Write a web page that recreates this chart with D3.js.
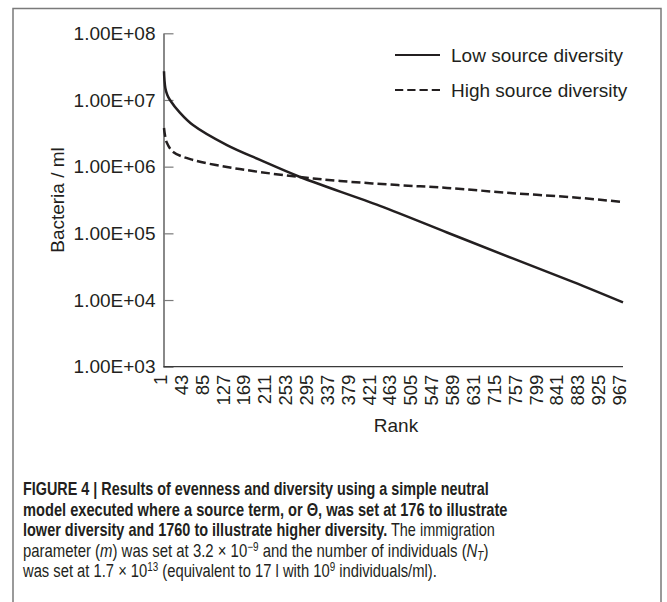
<!DOCTYPE html>
<html>
<head>
<meta charset="utf-8">
<script src="https://cdn.jsdelivr.net/npm/d3@7"></script>
<style>
  html, body { margin: 0; padding: 0; background: #fff; }
  svg { display: block; }
</style>
</head>
<body>
<svg id="chart" width="667" height="602"></svg>
<script>
// ---- data ----
const seriesNames = ["Low source diversity", "High source diversity"];
const lowRanks  = [1, 2, 4, 8, 14, 36, 64, 138, 210, 297, 471, 617, 760, 891, 1000];
const lowValues = [2.7e7, 2.0e7, 1.5e7, 1.2e7, 1.0e7, 6.4e6, 4.2e6, 2.1e6, 1.26e6, 7.0e5, 2.58e5, 1.03e5, 4.2e4, 1.87e4, 9.2e3];
const highRanks  = [1, 3, 7, 21, 64, 138, 210, 297, 384, 510, 617, 760, 906, 1000];
const highValues = [3.8e6, 3.0e6, 2.3e6, 1.66e6, 1.26e6, 9.9e5, 8.3e5, 7.0e5, 6.1e5, 5.3e5, 4.8e5, 4.0e5, 3.4e5, 2.95e5];
const xTickLabels = ["1","43","85","127","169","211","253","295","337","379","421","463","505","547","589","631","715","757","799","841","883","925","967"];
const yTickValues = [1e3, 1e4, 1e5, 1e6, 1e7, 1e8];
const yTitle = "Bacteria / ml";
const xTitle = "Rank";

const svg = d3.select("#chart");
const ink = "#231f20";
const font = "'Liberation Sans', Arial, Helvetica, sans-serif";

// frame
svg.append("path")
  .attr("d", "M13,602 L13,8.5 L661,8.5 L661,602")
  .attr("fill", "none").attr("stroke", "#7a7a7a").attr("stroke-width", 1.5);

const x = d3.scaleLinear().domain([1, 1000]).range([164, 623]);
const xLab = d3.scalePoint().domain(xTickLabels).range([160, 619]);
const y = d3.scaleLog().domain([1e3, 1e8]).range([366.7, 33.3]);

// y axis
const yAxis = d3.axisLeft(y)
  .tickValues(yTickValues)
  .tickSizeInner(-10).tickSizeOuter(0).tickPadding(8)
  .tickFormat(d => "1.00E+" + String(Math.round(Math.log10(d))).padStart(2, "0"));
const gy = svg.append("g").attr("transform", "translate(163.5,0)").call(yAxis);
gy.select(".domain").attr("stroke", "#3a3a3a").attr("stroke-width", 1.2);
gy.selectAll(".tick line").attr("stroke", "#7a7a7a").attr("stroke-width", 1.2);
gy.selectAll(".tick text").attr("font-family", font).attr("font-size", 19).attr("fill", ink);

// x axis line
svg.append("line")
  .attr("x1", x.range()[0] - 0.5).attr("x2", x.range()[1])
  .attr("y1", 366.7).attr("y2", 366.7)
  .attr("stroke", "#3a3a3a").attr("stroke-width", 1.2);

// x tick labels via axis
const xAxis = d3.axisBottom(xLab).tickSize(0).tickPadding(0);
const gx = svg.append("g").attr("transform", "translate(0,366.7)").call(xAxis);
gx.select(".domain").remove();
gx.selectAll(".tick text")
  .attr("font-family", font).attr("font-size", 18.5).attr("fill", ink)
  .attr("transform", "rotate(-90)")
  .attr("text-anchor", "end")
  .attr("x", -8).attr("y", 0).attr("dy", "0.35em");

// axis titles
svg.append("text").text(xTitle)
  .attr("x", 396).attr("y", 432)
  .attr("text-anchor", "middle")
  .attr("font-family", font).attr("font-size", 19).attr("fill", ink);
svg.append("text").text(yTitle)
  .attr("transform", "translate(64,200) rotate(-90)")
  .attr("text-anchor", "middle")
  .attr("font-family", font).attr("font-size", 19).attr("fill", ink);

// lines
const line = d3.line().x(d => x(d[0])).y(d => y(d[1])).curve(d3.curveCatmullRom.alpha(0.5));
const lowData = lowRanks.map((r, i) => [r, lowValues[i]]);
const highData = highRanks.map((r, i) => [r, highValues[i]]);
svg.append("path").datum(lowData).attr("d", line)
  .attr("fill", "none").attr("stroke", ink).attr("stroke-width", 2.5);
svg.append("path").datum(highData).attr("d", line)
  .attr("fill", "none").attr("stroke", ink).attr("stroke-width", 2.5)
  .attr("stroke-dasharray", "9,4");

// legend
const legend = svg.append("g");
const legRows = [{name: seriesNames[0], dash: null, y: 55}, {name: seriesNames[1], dash: "8.25,4", y: 90}];
legRows.forEach(r => {
  legend.append("line").attr("x1", 395).attr("x2", 440).attr("y1", r.y).attr("y2", r.y)
    .attr("stroke", ink).attr("stroke-width", 2)
    .attr("stroke-dasharray", r.dash);
  legend.append("text").text(r.name).attr("x", 451).attr("y", r.y).attr("dy", "0.35em")
    .attr("font-family", font).attr("font-size", 19).attr("fill", ink);
});

// caption (condensed by horizontal scaling to the reference line widths)
const cap = svg.append("g").attr("font-family", font).attr("font-size", 18).attr("fill", ink);
const lineYs = [495, 515.5, 536, 556.5, 577];
const lineWidths = [466, 485, 472, 466, 414];
function capLine(i, parts) {
  const g = cap.append("g");
  const t = g.append("text").attr("x", 0).attr("y", 0);
  parts.forEach(p => {
    const s = t.append("tspan").text(p.t);
    if (p.b) s.attr("font-weight", "bold");
    if (p.i) s.attr("font-style", "italic");
    if (p.sup) s.attr("dy", -6).attr("font-size", 12);
    if (p.sub) s.attr("dy", 3).attr("font-size", 12);
    if (p.back) s.attr("dy", p.back);
  });
  const w = t.node().getComputedTextLength();
  g.attr("transform", `translate(23,${lineYs[i]}) scale(${lineWidths[i] / w},1)`);
}
capLine(0, [{t: "FIGURE 4 | Results of evenness and diversity using a simple neutral", b: true}]);
capLine(1, [{t: "model executed where a source term, or \u0398, was set at 176 to illustrate", b: true}]);
capLine(2, [{t: "lower diversity and 1760 to illustrate higher diversity.", b: true}, {t: " The immigration"}]);
capLine(3, [{t: "parameter ("}, {t: "m", i: true}, {t: ") was set at 3.2 \u00d7 10"}, {t: "\u22129", sup: true},
            {t: " and the number of individuals (", back: 6}, {t: "N", i: true}, {t: "T", i: true, sub: true}, {t: ")", back: -3}]);
capLine(4, [{t: "was set at 1.7 \u00d7 10"}, {t: "13", sup: true}, {t: " (equivalent to 17 l with 10", back: 6}, {t: "9", sup: true},
            {t: " individuals/ml).", back: 6}]);
</script>
</body>
</html>
